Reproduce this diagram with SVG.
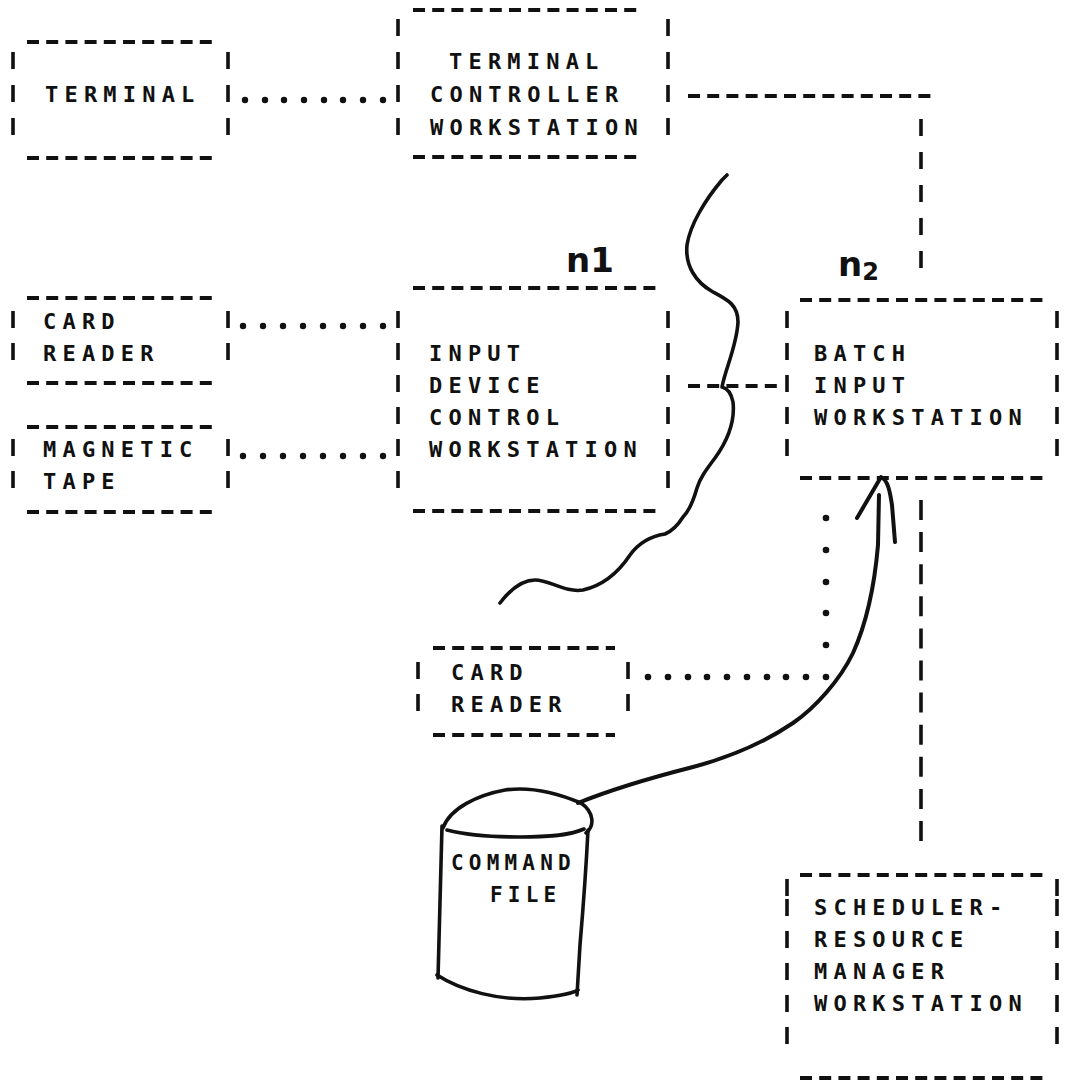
<svg xmlns="http://www.w3.org/2000/svg" width="1068" height="1092" viewBox="0 0 1068 1092">
<style>
  .bg { fill: #ffffff; }
  .t { font-family: "DejaVu Sans Mono", "Liberation Mono", monospace; font-size: 22px; font-weight: bold; letter-spacing: 6.2px; fill: #111; }
  .tc { font-family: "DejaVu Sans Mono", "Liberation Mono", monospace; font-size: 21px; font-weight: bold; letter-spacing: 5.2px; fill: #111; }
  .hw { font-family: "DejaVu Sans", "Liberation Sans", sans-serif; font-weight: bold; fill: #111; }
  .dh { stroke: #111; stroke-width: 4; stroke-dasharray: 12 7.2; fill: none; }
  .dv { stroke: #111; stroke-width: 3.6; stroke-dasharray: 17 16; fill: none; }
  .dv2 { stroke: #111; stroke-width: 3.6; stroke-dasharray: 17 15; fill: none; }
  .dot { fill: #111; }
  .pen { stroke: #111; stroke-width: 3.6; fill: none; stroke-linecap: round; stroke-linejoin: round; }
</style>
<rect class="bg" x="0" y="0" width="1068" height="1092"/>

<g id="terminal">
  <line class="dh" x1="27" y1="42" x2="213" y2="42"/>
  <line class="dh" x1="27" y1="158" x2="213" y2="158"/>
  <line class="dv" x1="13" y1="52" x2="13" y2="136"/>
  <line class="dv" x1="228" y1="52" x2="228" y2="136"/>
  <text class="t" x="45" y="102">TERMINAL</text>
</g>

<g id="terminal-controller">
  <line class="dh" x1="413" y1="10" x2="638" y2="10"/>
  <line class="dh" x1="413" y1="157" x2="638" y2="157"/>
  <line class="dv" x1="398" y1="19" x2="398" y2="136"/>
  <line class="dv" x1="668" y1="19" x2="668" y2="136"/>
  <text class="t" x="449" y="69">TERMINAL</text>
  <text class="t" x="430" y="102">CONTROLLER</text>
  <text class="t" x="430" y="135">WORKSTATION</text>
</g>

<g id="card-reader-1">
  <line class="dh" x1="27" y1="298" x2="213" y2="298"/>
  <line class="dh" x1="27" y1="383" x2="213" y2="383"/>
  <line class="dv2" x1="13" y1="311" x2="13" y2="361"/>
  <line class="dv2" x1="228" y1="311" x2="228" y2="361"/>
  <text class="t" x="43" y="329">CARD</text>
  <text class="t" x="43" y="361">READER</text>
</g>

<g id="magnetic-tape">
  <line class="dh" x1="27" y1="427" x2="213" y2="427"/>
  <line class="dh" x1="27" y1="512" x2="213" y2="512"/>
  <line class="dv2" x1="13" y1="439" x2="13" y2="489"/>
  <line class="dv2" x1="228" y1="439" x2="228" y2="489"/>
  <text class="t" x="43" y="457">MAGNETIC</text>
  <text class="t" x="43" y="489">TAPE</text>
</g>

<g id="input-device-control">
  <line class="dh" x1="413" y1="288" x2="657" y2="288"/>
  <line class="dh" x1="413" y1="511" x2="657" y2="511"/>
  <line class="dv2" x1="398" y1="311" x2="398" y2="489"/>
  <line class="dv2" x1="668" y1="311" x2="668" y2="489"/>
  <text class="t" x="429" y="361">INPUT</text>
  <text class="t" x="429" y="393">DEVICE</text>
  <text class="t" x="429" y="425">CONTROL</text>
  <text class="t" x="429" y="457">WORKSTATION</text>
</g>

<g id="batch-input">
  <line class="dh" x1="800" y1="300" x2="1045" y2="300"/>
  <line class="dh" x1="800" y1="478" x2="1045" y2="478"/>
  <line class="dv2" x1="787" y1="311" x2="787" y2="457"/>
  <line class="dv2" x1="1057" y1="311" x2="1057" y2="457"/>
  <text class="t" x="814" y="361">BATCH</text>
  <text class="t" x="814" y="393">INPUT</text>
  <text class="t" x="814" y="425">WORKSTATION</text>
</g>

<g id="card-reader-2">
  <line class="dh" x1="433" y1="648" x2="615" y2="648"/>
  <line class="dh" x1="433" y1="735" x2="615" y2="735"/>
  <line class="dv2" x1="418" y1="662" x2="418" y2="712"/>
  <line class="dv2" x1="628" y1="662" x2="628" y2="712"/>
  <text class="t" x="451" y="680">CARD</text>
  <text class="t" x="451" y="712">READER</text>
</g>

<g id="command-file">
  <path class="pen" d="M 443 828 C 450 808 478 795 505 790 C 532 786 562 795 581 803 C 594 812 595 826 586 833"/>
  <path class="pen" d="M 447 830 C 470 836 495 837 520 837 C 545 837 568 836 584 829"/>
  <path class="pen" d="M 442 826 L 438 978"/>
  <path class="pen" d="M 588 830 C 586 870 583 910 580 945 L 577 995"/>
  <path class="pen" d="M 437 975 C 460 990 500 1002 540 998 C 558 996 572 994 578 990"/>
  <text class="tc" x="451" y="870">COMMAND</text>
  <text class="tc" x="490" y="902">FILE</text>
</g>

<g id="scheduler">
  <line class="dh" x1="800" y1="875" x2="1045" y2="875"/>
  <line class="dh" x1="800" y1="1078" x2="1045" y2="1078"/>
  <line class="dv" x1="787" y1="879" x2="787" y2="896"/>
  <line class="dv" x1="1057" y1="879" x2="1057" y2="896"/>
  <line class="dv2" x1="787" y1="899" x2="787" y2="1046"/>
  <line class="dv2" x1="1057" y1="899" x2="1057" y2="1046"/>
  <text class="t" x="814" y="915">SCHEDULER-</text>
  <text class="t" x="814" y="947">RESOURCE</text>
  <text class="t" x="814" y="979">MANAGER</text>
  <text class="t" x="814" y="1011">WORKSTATION</text>
</g>

<g id="labels">
  <text class="hw" x="566" y="272" font-size="34">n1</text>
  <text class="hw" x="838" y="276" font-size="34">n<tspan font-size="24" dy="4">2</tspan></text>
</g>

<g id="connectors">
  <!-- terminal to terminal controller -->
  <g class="dot">
    <circle cx="245" cy="100" r="3.2"/><circle cx="265" cy="100" r="3.2"/><circle cx="284" cy="100" r="3.2"/><circle cx="304" cy="100" r="3.2"/>
    <circle cx="324" cy="100" r="3.2"/><circle cx="343" cy="100" r="3.2"/><circle cx="363" cy="100" r="3.2"/><circle cx="383" cy="100" r="3.2"/>
  </g>
  <!-- card reader 1 to input device -->
  <g class="dot">
    <circle cx="243" cy="326" r="3.2"/><circle cx="263" cy="326" r="3.2"/><circle cx="283" cy="326" r="3.2"/><circle cx="303" cy="326" r="3.2"/>
    <circle cx="323" cy="326" r="3.2"/><circle cx="343" cy="326" r="3.2"/><circle cx="363" cy="326" r="3.2"/><circle cx="383" cy="326" r="3.2"/>
  </g>
  <!-- magnetic tape to input device -->
  <g class="dot">
    <circle cx="243" cy="456" r="3.2"/><circle cx="263" cy="456" r="3.2"/><circle cx="283" cy="456" r="3.2"/><circle cx="303" cy="456" r="3.2"/>
    <circle cx="323" cy="456" r="3.2"/><circle cx="343" cy="456" r="3.2"/><circle cx="363" cy="456" r="3.2"/><circle cx="383" cy="456" r="3.2"/>
  </g>
  <!-- terminal controller to batch input -->
  <line class="dh" x1="688" y1="96" x2="933" y2="96"/>
  <line class="dv" x1="921" y1="119" x2="921" y2="270"/>
  <!-- input device to batch input -->
  <line class="dh" x1="688" y1="386" x2="778" y2="386"/>
  <!-- batch input to scheduler -->
  <line class="dv2" x1="921" y1="500" x2="921" y2="841" style="stroke-dasharray:20 12.1"/>
  <!-- card reader 2 to batch input -->
  <g class="dot">
    <circle cx="648" cy="677" r="3.3"/><circle cx="668" cy="677" r="3.3"/><circle cx="688" cy="677" r="3.3"/><circle cx="707" cy="677" r="3.3"/>
    <circle cx="727" cy="677" r="3.3"/><circle cx="747" cy="677" r="3.3"/><circle cx="767" cy="677" r="3.3"/><circle cx="786" cy="677" r="3.3"/>
    <circle cx="806" cy="677" r="3.3"/><circle cx="826" cy="677" r="3.3"/>
    <circle cx="826" cy="645" r="3.3"/><circle cx="826" cy="613" r="3.3"/><circle cx="826" cy="582" r="3.3"/><circle cx="826" cy="550" r="3.3"/><circle cx="826" cy="518" r="3.3"/>
  </g>
  <!-- hand-drawn boundary line -->
  <path class="pen" d="M 727 175 L 722 180 C 705 200 690 225 687 245 C 685 265 695 282 713 292 C 728 300 738 305 738 322 C 737 345 725 370 722 387 C 726 388 731 392 733 402 C 735 420 728 440 715 458 C 706 470 700 478 697 488 C 693 502 688 512 683 517 C 678 525 672 531 665 534 C 652 536 640 541 630 555 C 620 570 605 585 583 590 C 565 593 550 580 535 580 C 522 580 510 590 500 603"/>
  <!-- hand-drawn arrow from command file to batch input -->
  <path class="pen" style="stroke-width:4" d="M 578 803 C 610 790 650 778 693 767 C 730 757 765 742 793 723 C 815 708 840 680 853 653 C 868 620 875 580 878 545 L 879 495"/>
  <path class="pen" style="stroke-width:4" d="M 857 518 L 881 477 C 888 480 890 492 892 505 L 895 542"/>
</g>
</svg>
